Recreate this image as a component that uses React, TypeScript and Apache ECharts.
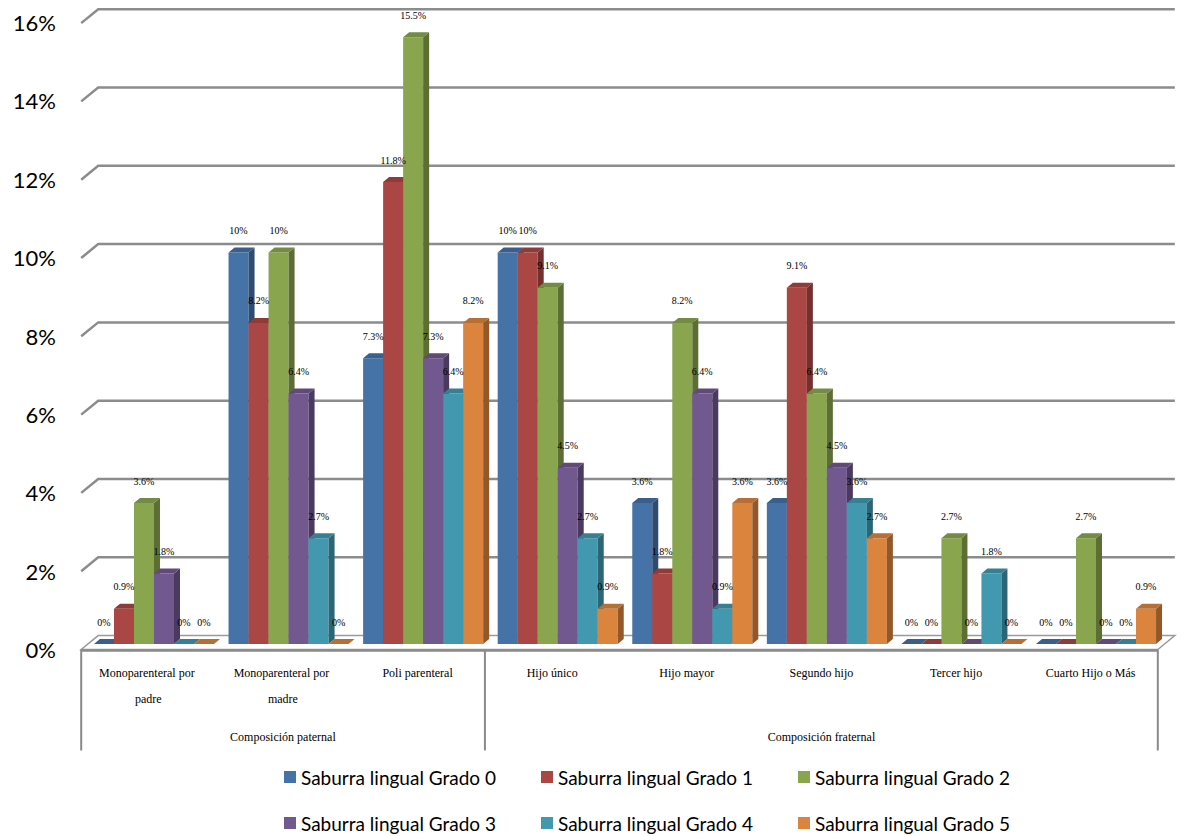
import React, { useEffect, useRef } from "react";
import * as echarts from "echarts";

const categories = [
  "Monoparenteral por padre",
  "Monoparenteral por madre",
  "Poli parenteral",
  "Hijo único",
  "Hijo mayor",
  "Segundo hijo",
  "Tercer hijo",
  "Cuarto Hijo o Más",
];
const groupLabels = ["Composición paternal", "Composición fraternal"];
const groupSpans = [3, 5];

const seriesNames = [
  "Saburra lingual Grado 0",
  "Saburra lingual Grado 1",
  "Saburra lingual Grado 2",
  "Saburra lingual Grado 3",
  "Saburra lingual Grado 4",
  "Saburra lingual Grado 5",
];
const grado0 = [0, 10, 7.3, 10, 3.6, 3.6, 0, 0];
const grado1 = [0.9, 8.2, 11.8, 10, 1.8, 9.1, 0, 0];
const grado2 = [3.6, 10, 15.5, 9.1, 8.2, 6.4, 2.7, 2.7];
const grado3 = [1.8, 6.4, 7.3, 4.5, 6.4, 4.5, 0, 0];
const grado4 = [0, 2.7, 6.4, 2.7, 0.9, 3.6, 1.8, 0];
const grado5 = [0, 0, 8.2, 0.9, 3.6, 2.7, 0, 0.9];
const seriesValues = [grado0, grado1, grado2, grado3, grado4, grado5];

const yTicks = [0, 2, 4, 6, 8, 10, 12, 14, 16];

const frontColors = ["#4572A7", "#AA4643", "#89A54E", "#71588F", "#4198AF", "#DB843D"];
const sideColors = ["#2E4B70", "#73302E", "#5C6E34", "#4B3A5F", "#2C6676", "#93582A"];
const topColors = ["#3B5F8C", "#8F3B39", "#738B42", "#5F4A78", "#377F93", "#B86F33"];

const DX = 6;
const DY = 5;

function makeBarRender(k: number) {
  return (params: any, api: any) => {
    const cat = api.value(0);
    const val = api.value(1);
    const base = api.coord([cat, 0]);
    const top = api.coord([cat, val]);
    const band = api.size([1, 0])[0];
    const w = (band * 0.892) / 6;
    const x0 = base[0] - 3 * w + k * w;
    const x1 = x0 + w;
    const y0 = base[1];
    const yt = top[1];
    const children: any[] = [];
    if (val > 0) {
      children.push({
        type: "rect",
        shape: { x: x0, y: yt, width: w, height: y0 - yt },
        style: { fill: frontColors[k] },
      });
      children.push({
        type: "polygon",
        shape: { points: [[x1, yt], [x1 + DX, yt - DY], [x1 + DX, y0 - DY], [x1, y0]] },
        style: { fill: sideColors[k] },
      });
    }
    children.push({
      type: "polygon",
      shape: { points: [[x0, yt], [x1, yt], [x1 + DX, yt - DY], [x0 + DX, yt - DY]] },
      style: { fill: topColors[k] },
    });
    children.push({
      type: "text",
      z2: 100,
      style: {
        text: `${val}%`,
        x: (x0 + x1) / 2,
        y: yt - 22,
        align: "center",
        verticalAlign: "middle",
        fontFamily: "Liberation Serif",
        fontSize: 10,
        fill: "#000",
      },
    });
    return { type: "group", children };
  };
}

function frameRender(params: any, api: any) {
  const band = api.size([1, 0])[0];
  const n = categories.length;
  const left = api.coord([0, 0])[0] - band / 2;
  const right = api.coord([n - 1, 0])[0] + band / 2;
  const fOff = -5.5;
  const bOff = 11.5;
  const fy = 5.5;
  const by = -8.4;
  const y0 = api.coord([0, 0])[1];
  const children: any[] = [];
  children.push({
    type: "polygon",
    shape: {
      points: [
        [left + fOff, y0 + fy],
        [right + fOff, y0 + fy],
        [right + bOff, y0 + by],
        [left + bOff, y0 + by],
      ],
    },
    style: { fill: "#fff", stroke: "#9a9a9a", lineWidth: 1.5 },
  });
  children.push({
    type: "line",
    shape: { x1: left + fOff, y1: y0 + fy + 1, x2: right + fOff, y2: y0 + fy + 1 },
    style: { stroke: "#8a8a8a", lineWidth: 2.5 },
  });
  yTicks.forEach((v) => {
    if (v === 0) return;
    const y = api.coord([0, v])[1];
    children.push({
      type: "polyline",
      shape: {
        points: [
          [left + fOff, y + fy],
          [left + bOff, y + by],
          [right + bOff, y + by],
        ],
      },
      style: { stroke: "#8c8c8c", lineWidth: 2.5, fill: "none" },
    });
  });
  const bounds = [0];
  let acc = 0;
  groupSpans.forEach((s) => {
    acc += s;
    bounds.push(acc);
  });
  bounds.forEach((b) => {
    const x = left + fOff + b * band;
    children.push({
      type: "line",
      shape: { x1: x, y1: y0 + fy, x2: x, y2: y0 + fy + 101 },
      style: { stroke: "#8a8a8a", lineWidth: 2 },
    });
  });
  return { type: "group", children };
}

export default function App() {
  const ref = useRef<HTMLDivElement>(null);
  useEffect(() => {
    if (!ref.current) return;
    const chart = echarts.init(ref.current, undefined, { renderer: "svg" });

    const groupAxisData: string[] = categories.map(() => "");
    let start = 0;
    groupSpans.forEach((s, i) => {
      const c = start + (s - 1) / 2;
      groupAxisData[c] = groupLabels[i];
      start += s;
    });

    const barSeries = seriesNames.map((name, k) => ({
      type: "custom",
      name,
      xAxisIndex: 0,
      yAxisIndex: 0,
      clip: false,
      itemStyle: { color: frontColors[k] },
      renderItem: makeBarRender(k),
      data: seriesValues[k].map((v, i) => [i, v]),
    }));

    const legendBase = {
      icon: "rect",
      itemWidth: 12,
      itemHeight: 12,
      itemGap: 20,
      padding: 0,
      left: 284,
      orient: "horizontal",
      selectedMode: false,
      textStyle: { fontFamily: "Lato", fontSize: 19, color: "#000", width: 220, lineHeight: 20 },
    };

    chart.setOption({
      animation: false,
      backgroundColor: "#fff",
      grid: [
        { left: 86.7, right: 22.7, top: 17.6, bottom: 192 },
        { left: 81, right: 28, top: 22.5, bottom: 186.5 },
      ],
      xAxis: [
        { type: "category", gridIndex: 0, data: categories, show: false },
        {
          type: "category",
          gridIndex: 1,
          data: categories,
          axisLine: { show: false },
          axisTick: { show: false },
          axisLabel: {
            interval: 0,
            fontFamily: "Liberation Serif",
            fontSize: 12,
            lineHeight: 26,
            width: 118,
            overflow: "break",
            margin: 10.5,
            color: "#000",
          },
        },
        {
          type: "category",
          gridIndex: 1,
          position: "bottom",
          data: groupAxisData,
          axisLine: { show: false },
          axisTick: { show: false },
          axisLabel: {
            interval: 0,
            fontFamily: "Liberation Serif",
            fontSize: 12,
            lineHeight: 16,
            margin: 79,
            color: "#000",
          },
        },
      ],
      yAxis: [
        { type: "value", gridIndex: 0, min: 0, max: 16, interval: 2, show: false },
        {
          type: "value",
          gridIndex: 1,
          min: 0,
          max: 16,
          interval: 2,
          axisLine: { show: false },
          axisTick: { show: false },
          splitLine: { show: false },
          axisLabel: {
            formatter: "{value}%",
            fontFamily: "Lato",
            fontSize: 22,
            color: "#000",
            margin: 25,
          },
        },
      ],
      legend: [
        { ...legendBase, top: 767, data: seriesNames.slice(0, 3) },
        { ...legendBase, top: 813, data: seriesNames.slice(3, 6) },
      ],
      series: [
        {
          type: "custom",
          name: "frame",
          xAxisIndex: 0,
          yAxisIndex: 0,
          clip: false,
          silent: true,
          z: 1,
          renderItem: frameRender,
          data: [[0, 0]],
        },
        ...barSeries,
      ],
    } as any);
    return () => chart.dispose();
  }, []);
  return (
    <div
      ref={ref}
      style={{ position: "absolute", left: 0, top: 0, width: 1186, height: 836 }}
    />
  );
}
